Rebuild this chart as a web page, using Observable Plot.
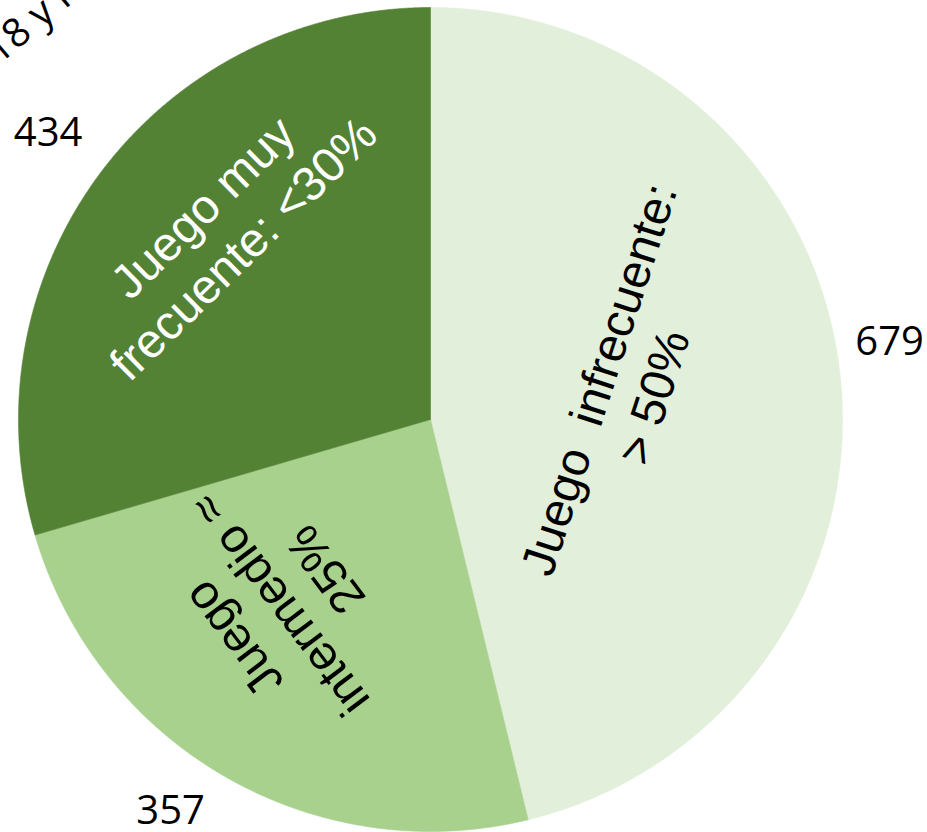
<!DOCTYPE html>
<html><head><meta charset="utf-8">
<script src="https://cdn.jsdelivr.net/npm/d3@7"></script>
<script src="https://cdn.jsdelivr.net/npm/@observablehq/plot@0.6"></script>
<style>body{margin:0;background:#fff}</style>
</head><body><div id="chart"></div>
<script>
// ---- data ----
const categories = ["Juego infrecuente", "Juego intermedio", "Juego muy frecuente"];
const values = [679, 357, 434];
const sliceLabels = ["Juego  infrecuente:\n> 50%", "Juego\nintermedio ≈\n25%", "Juego muy\nfrecuente: <30%"];
const colors = ["#E2EFDA", "#A9D18E", "#548235"];
const labelColors = ["#000000", "#000000", "#ffffff"];
const titleText = "18 y más";

// ---- layout (annotation placement, not data) ----
const W = 927, H = 832, CX = 430, CY = 419, R = 412;
const valueLabelLayout = [{dA: -2.65, r: 1.13}, {dA: 3.6, r: 1.14}, {dA: 0, r: 1.16}];
const innerLabelLayout = [{dA: -2.5, r: 0.477, rot: -72}, {dA: 9.4, r: 0.585, rot: -127}, {dA: 5.85, r: 0.69, rot: -44.5}];
const innerFont = "Liberation Sans";
const numFont = "Open Sans";

const arcs = d3.pie().sort(null).value(d => d)(values);
const deg = Math.PI / 180;

// polygon points per slice
const pts = [];
arcs.forEach((a, i) => {
  pts.push({cat: categories[i], x: 0, y: 0});
  const n = Math.max(2, Math.ceil((a.endAngle - a.startAngle) / (0.25 * deg)));
  for (let k = 0; k <= n; k++) {
    const t = a.startAngle + (a.endAngle - a.startAngle) * k / n;
    pts.push({cat: categories[i], x: Math.sin(t), y: Math.cos(t)});
  }
  pts.push({cat: categories[i], x: 0, y: 0});
});

const valueLabels = arcs.map((a, i) => {
  const m = (a.startAngle + a.endAngle) / 2 + valueLabelLayout[i].dA * deg;
  const r = valueLabelLayout[i].r;
  return {text: String(values[i]), x: r * Math.sin(m), y: r * Math.cos(m)};
});
const innerLabels = arcs.map((a, i) => {
  const m = (a.startAngle + a.endAngle) / 2 + innerLabelLayout[i].dA * deg;
  const r = innerLabelLayout[i].r;
  return {text: sliceLabels[i], x: r * Math.sin(m), y: r * Math.cos(m), rot: innerLabelLayout[i].rot, color: labelColors[i]};
});

const chart = Plot.plot({
  width: W, height: H,
  marginTop: 0, marginRight: 0, marginBottom: 0, marginLeft: 0,
  x: {domain: [-CX / R, (W - CX) / R], axis: null},
  y: {domain: [(CY - H) / R, CY / R], axis: null},
  color: {domain: categories, range: colors},
  style: {background: "#fff"},
  marks: [
    Plot.line(pts, {x: "x", y: "y", z: "cat", fill: "cat", stroke: "cat", strokeWidth: 0.6, curve: "linear"}),
    Plot.text(innerLabels.filter(d => d.color === "#000000"), {x: "x", y: "y", text: "text", rotate: "rot", fill: "#000", fontSize: 48, fontFamily: innerFont, lineHeight: 1.2}),
    Plot.text(innerLabels.filter(d => d.color !== "#000000"), {x: "x", y: "y", text: "text", rotate: "rot", fill: "#fff", fontSize: 48, fontFamily: innerFont, lineHeight: 1.2}),
    Plot.text(valueLabels, {x: "x", y: "y", text: "text", fill: "#000", fontSize: 40, fontFamily: numFont}),
    Plot.text([titleText], {text: d => d, frameAnchor: "top-left", dx: -20, dy: 43, rotate: -40, textAnchor: "start", fontSize: 40, fontFamily: numFont, fill: "#000"})
  ]
});
document.getElementById("chart").appendChild(chart);
</script>
</body></html>
